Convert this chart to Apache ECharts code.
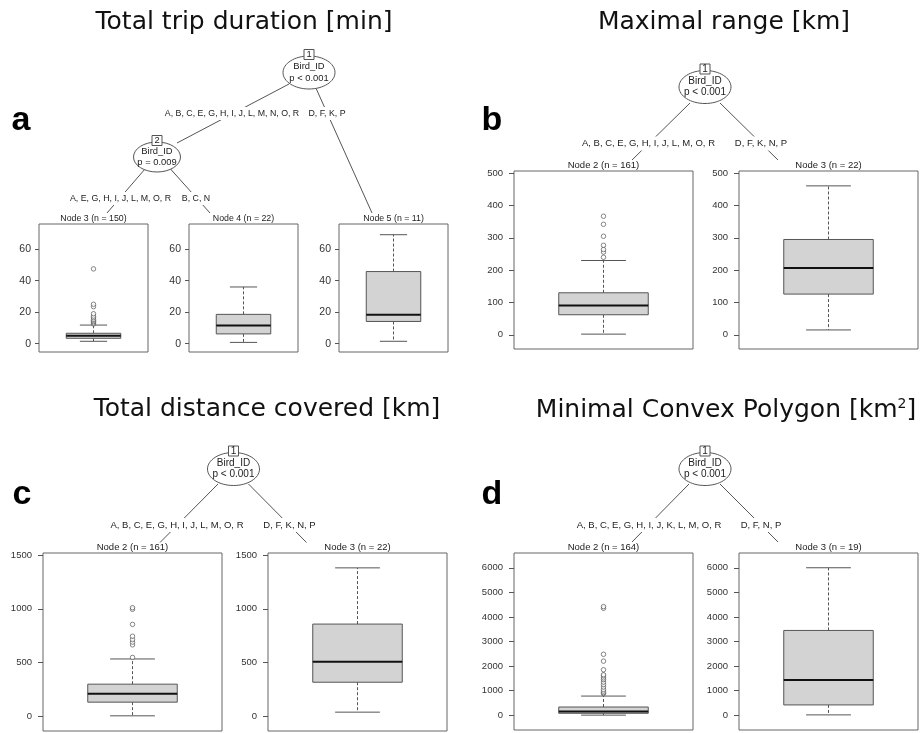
<!DOCTYPE html>
<html>
<head>
<meta charset="utf-8">
<title>Bird_ID conditional trees</title>
<script src="https://cdn.jsdelivr.net/npm/echarts@6/dist/echarts.min.js"></script>
<style>
html,body{margin:0;padding:0;background:#fff;}
#chartContainer{width:921px;height:733px;}
</style>
</head>
<body>
<div id="chartContainer"></div>
<script>
// a: total trip duration [min]  (box = lower whisker, Q1, median, Q3, upper whisker)
var durationNodes = ['Node 3 (n = 150)', 'Node 4 (n = 22)', 'Node 5 (n = 11)'];
var durationBoxes = [[1.5, 3.4, 5.1, 6.6, 11.8], [0.8, 6.2, 11.6, 18.6, 36], [1.5, 14.1, 18.4, 45.8, 69.2]];
var durationOutliers = [[12.5, 13.2, 14, 14.8, 15.5, 16.5, 17.5, 19, 23.5, 25, 47.5], [], []];
var durationTicks = [0, 20, 40, 60];
var durationSplits = ['A, B, C, E, G, H, I, J, L, M, N, O, R', 'D, F, K, P', 'A, E, G, H, I, J, L, M, O, R', 'B, C, N'];

// b: maximal range [km]
var rangeNodes = ['Node 2 (n = 161)', 'Node 3 (n = 22)'];
var rangeBoxes = [[2, 62, 91, 130, 230], [15, 126, 207, 295, 461]];
var rangeOutliers = [[240, 256, 264, 277, 305, 342, 367], []];
var rangeTicks = [0, 100, 200, 300, 400, 500];
var rangeSplits = ['A, B, C, E, G, H, I, J, L, M, O, R', 'D, F, K, N, P'];

// c: total distance covered [km]
var distanceNodes = ['Node 2 (n = 161)', 'Node 3 (n = 22)'];
var distanceBoxes = [[6, 133, 210, 300, 534], [40, 318, 509, 858, 1380]];
var distanceOutliers = [[548, 665, 690, 715, 745, 855, 995, 1010], []];
var distanceTicks = [0, 500, 1000, 1500];
var distanceSplits = ['A, B, C, E, G, H, I, J, L, M, O, R', 'D, F, K, N, P'];

// d: minimal convex polygon [km2]
var mcpNodes = ['Node 2 (n = 164)', 'Node 3 (n = 19)'];
var mcpBoxes = [[5, 80, 150, 335, 780], [15, 420, 1430, 3450, 6000]];
var mcpOutliers = [[880, 920, 980, 1050, 1150, 1250, 1350, 1450, 1520, 1600, 1650, 1850, 2200, 2480, 4350, 4420], []];
var mcpTicks = [0, 1000, 2000, 3000, 4000, 5000, 6000];
var mcpSplits = ['A, B, C, E, G, H, I, J, K, L, M, O, R', 'D, F, N, P'];

var FONT = '"Liberation Sans", Arial, Helvetica, sans-serif';
var TITLE_FONT = '"DejaVu Sans", Verdana, sans-serif';
var LINE = '#555';

var options = {
    backgroundColor: '#fff',
    animation: false,
    grid: [],
    xAxis: [],
    yAxis: [],
    series: [],
    graphic: {elements: []}
};
var els = options.graphic.elements;

function txt(s, x, y, size, extra) {
    var st = {text: s, x: 0, y: 0, fill: '#222', fontSize: size, fontFamily: FONT,
        textAlign: 'center', textVerticalAlign: 'middle', align: 'center', verticalAlign: 'middle'};
    for (var k in extra) st[k] = extra[k];
    return {type: 'text', x: x, y: y, z: 20, style: st, silent: true};
}

// box + dashed whiskers, drawn through the axis scales
function boxItem(params, api) {
    var x = api.value(0);
    var lo = api.coord([x, api.value(1)]);
    var q1 = api.coord([x, api.value(2)]);
    var med = api.coord([x, api.value(3)]);
    var q3 = api.coord([x, api.value(4)]);
    var hi = api.coord([x, api.value(5)]);
    var xl = api.coord([x - 0.5, 0])[0], xr = api.coord([x + 0.5, 0])[0];
    var cl = api.coord([x - 0.25, 0])[0], cr = api.coord([x + 0.25, 0])[0];
    var cx = lo[0];
    var dash = {stroke: LINE, lineWidth: 1, lineDash: [3, 2]};
    var solid = {stroke: LINE, lineWidth: 1};
    return {type: 'group', children: [
        {type: 'line', shape: {x1: cx, y1: q1[1], x2: cx, y2: lo[1]}, style: dash},
        {type: 'line', shape: {x1: cx, y1: q3[1], x2: cx, y2: hi[1]}, style: dash},
        {type: 'line', shape: {x1: cl, y1: lo[1], x2: cr, y2: lo[1]}, style: solid},
        {type: 'line', shape: {x1: cl, y1: hi[1], x2: cr, y2: hi[1]}, style: solid},
        {type: 'rect', shape: {x: xl, y: q3[1], width: xr - xl, height: q1[1] - q3[1]},
            style: {fill: '#d3d3d3', stroke: LINE, lineWidth: 1}},
        {type: 'line', shape: {x1: xl, y1: med[1], x2: xr, y2: med[1]}, style: {stroke: '#111', lineWidth: 2}}
    ]};
}

function addNodes(frames, nodes, boxes, outliers, ticks, yMin, yMax, cfg) {
    frames.forEach(function (f, i) {
        var g = options.grid.length;
        options.grid.push({left: f[0], top: f[1], width: f[2], height: f[3], show: true,
            borderColor: '#666', borderWidth: 1, backgroundColor: 'transparent'});
        options.xAxis.push({gridIndex: g, type: 'value', min: -1, max: 1, show: false});
        options.yAxis.push({
            gridIndex: g, type: 'value', min: yMin, max: yMax, position: 'left',
            splitLine: {show: false},
            axisLine: {show: false, onZero: false},
            axisTick: {show: true, length: cfg.tick, customValues: ticks, lineStyle: {color: LINE}},
            axisLabel: {customValues: ticks, margin: cfg.margin, color: '#333', fontSize: cfg.font, fontFamily: FONT,
                formatter: function (v) { return String(v); }}
        });
        options.series.push({type: 'custom', xAxisIndex: g, yAxisIndex: g, silent: true,
            renderItem: boxItem, data: [[0].concat(boxes[i])]});
        if (outliers[i].length) {
            options.series.push({type: 'scatter', xAxisIndex: g, yAxisIndex: g, silent: true,
                symbol: 'circle', symbolSize: 4.5,
                itemStyle: {color: '#fff', borderColor: '#444', borderWidth: 0.8},
                data: outliers[i].map(function (v) { return [0, v]; })});
        }
        els.push(txt(nodes[i], f[0] + f[2] / 2, f[1] - 5.5, cfg.label));
    });
}

// inner node: ellipse, id box, variable and p value
function innerNode(id, cx, cy, rx, ry, pText, size) {
    els.push({type: 'ellipse', z: 10, silent: true, shape: {cx: cx, cy: cy, rx: rx, ry: ry},
        style: {fill: '#fff', stroke: LINE, lineWidth: 1}});
    els.push({type: 'rect', z: 11, silent: true, shape: {x: cx - 5, y: cy - ry - 6.5, width: 10, height: 10},
        style: {fill: '#fff', stroke: LINE, lineWidth: 1}});
    els.push(txt(id, cx, cy - ry - 1.5, size));
    els.push(txt('Bird_ID', cx, cy - 6, size));
    els.push(txt(pText, cx, cy + 5.5, size));
}

function edge(x1, y1, x2, y2, label, lx, ly, size) {
    els.push({type: 'line', z: 5, silent: true, shape: {x1: x1, y1: y1, x2: x2, y2: y2},
        style: {stroke: LINE, lineWidth: 1}});
    els.push(txt(label, lx, ly, size, {backgroundColor: '#fff', padding: [2, 2]}));
}

function heading(s, x, y, letter, lx, ly) {
    els.push(txt(s, x, y, 25, {fontFamily: TITLE_FONT, fill: '#111'}));
    els.push(txt(letter, lx, ly, 34, {fontWeight: 'bold', fill: '#000'}));
}

// panel a
heading('Total trip duration [min]', 244, 22, 'a', 21, 121);
edge(289, 84, 177, 143, durationSplits[0], 232, 113.5, 8.8);
edge(315, 86, 372, 213, durationSplits[1], 327, 113.5, 8.8);
edge(145, 169, 107, 213, durationSplits[2], 120.5, 198.5, 8.8);
edge(170.5, 169, 210, 213, durationSplits[3], 196, 198.5, 8.8);
innerNode('1', 309, 72.5, 26, 16.5, 'p < 0.001', 9.4);
innerNode('2', 157, 157, 23.5, 15, 'p = 0.009', 9.4);
addNodes([[39, 224, 109, 128], [189, 224, 109, 128], [339, 224, 109, 128]],
    durationNodes, durationBoxes, durationOutliers, durationTicks, -5.3, 76,
    {tick: 4, margin: 8, font: 10.5, label: 8.8});

// panel b
heading('Maximal range [km]', 724, 22, 'b', 492, 121);
edge(690, 103, 632, 160, rangeSplits[0], 648.5, 143.5, 9.5);
edge(720, 103, 778, 160, rangeSplits[1], 761, 143.5, 9.5);
innerNode('1', 705, 87, 26, 16.5, 'p < 0.001', 10);
addNodes([[514, 171, 179, 178], [739, 171, 179, 178]],
    rangeNodes, rangeBoxes, rangeOutliers, rangeTicks, -44, 507,
    {tick: 5, margin: 11, font: 9.5, label: 9.5});

// panel c
heading('Total distance covered [km]', 267, 409, 'c', 22, 495);
edge(218, 484, 160, 542.5, distanceSplits[0], 177, 525, 9.5);
edge(248.5, 484, 306.5, 542.5, distanceSplits[1], 289.5, 525, 9.5);
innerNode('1', 233.5, 469, 26, 16.5, 'p < 0.001', 10);
addNodes([[43, 553, 179, 178], [268, 553, 179, 178]],
    distanceNodes, distanceBoxes, distanceOutliers, distanceTicks, -135, 1518,
    {tick: 5, margin: 11, font: 9.5, label: 9.5});

// panel d
els.push(txt('Minimal Convex Polygon [km{sup|2}]', 726, 410, 25, {fontFamily: TITLE_FONT, fill: '#111',
    rich: {sup: {fontSize: 14, fontFamily: TITLE_FONT, fill: '#111', verticalAlign: 'top'}}}));
els.push(txt('d', 492, 495, 34, {fontWeight: 'bold', fill: '#000'}));
edge(689, 484, 632, 542, mcpSplits[0], 649, 525, 9.5);
edge(720, 484, 778, 542, mcpSplits[1], 761, 525, 9.5);
innerNode('1', 705, 469, 26, 16.5, 'p < 0.001', 10);
addNodes([[514, 553, 179, 177], [739, 553, 179, 177]],
    mcpNodes, mcpBoxes, mcpOutliers, mcpTicks, -600, 6600,
    {tick: 5, margin: 11, font: 9.5, label: 9.5});

var myChar = echarts.init(document.getElementById('chartContainer'));
myChar.setOption(options);
</script>
</body>
</html>
